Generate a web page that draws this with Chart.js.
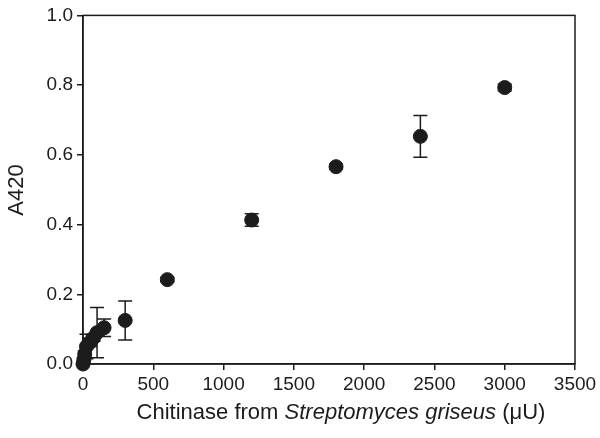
<!DOCTYPE html>
<html>
<head>
<meta charset="utf-8">
<script src="https://cdn.jsdelivr.net/npm/chart.js@4.4.1/dist/chart.umd.min.js"></script>
<style>
  html, body { margin: 0; padding: 0; background: #fff; }
  #wrap { width: 600px; height: 438px; position: relative; }
</style>
</head>
<body>
<div id="wrap"><canvas id="chart"></canvas></div>
<script>
// ---- data ----
const enzymeUnits = [0, 6, 12.5, 25, 50, 75, 100, 150, 300, 600, 1200, 1800, 2400, 3000];
const absorbance  = [0, 0.012, 0.028, 0.05, 0.062, 0.075, 0.09, 0.104, 0.125, 0.242, 0.413, 0.566, 0.653, 0.793];
const errorSD     = [0.003, 0.005, 0.01, 0.035, 0.012, 0.01, 0.072, 0.025, 0.056, 0.006, 0.018, 0.007, 0.06, 0.01];
const xTicks      = [0, 500, 1000, 1500, 2000, 2500, 3000, 3500];
const yTicks      = [0, 0.2, 0.4, 0.6, 0.8, 1.0];

const ink = '#1c1c1c';
const fam = 'Liberation Sans, Arial, sans-serif';
const tickFont = { family: fam, size: 19 };

// error bars + box frame + mixed-style axis titles
const decorations = {
    id: 'decorations',
    beforeDatasetsDraw(chart) {
        const { ctx, scales: { x, y } } = chart;
        ctx.save();
        ctx.strokeStyle = ink;
        ctx.lineWidth = 1.5;
        enzymeUnits.forEach((v, i) => {
            const px = x.getPixelForValue(v);
            const top = y.getPixelForValue(absorbance[i] + errorSD[i]);
            const bot = y.getPixelForValue(absorbance[i] - errorSD[i]);
            ctx.beginPath();
            ctx.moveTo(px, top); ctx.lineTo(px, bot);
            ctx.moveTo(px - 7, top); ctx.lineTo(px + 7, top);
            ctx.moveTo(px - 7, bot); ctx.lineTo(px + 7, bot);
            ctx.stroke();
        });
        ctx.restore();
    },
    afterDraw(chart) {
        const { ctx, chartArea: a } = chart;
        ctx.save();
        ctx.strokeStyle = ink;
        ctx.lineWidth = 1.5;
        ctx.strokeRect(a.left, a.top, a.right - a.left, a.bottom - a.top);

        // x title: plain + italic + plain
        const parts = [
            ['Chitinase from ', 'normal'],
            ['Streptomyces griseus', 'italic'],
            [' (\u03bcU)', 'normal']
        ];
        let total = 0;
        parts.forEach(p => { ctx.font = p[1] + ' 22px ' + fam; total += ctx.measureText(p[0]).width; });
        let cx = 341 - total / 2;
        ctx.fillStyle = ink;
        ctx.textBaseline = 'middle';
        ctx.textAlign = 'left';
        parts.forEach(p => {
            ctx.font = p[1] + ' 22px ' + fam;
            ctx.fillText(p[0], cx, 413);
            cx += ctx.measureText(p[0]).width;
        });

        // y title
        ctx.translate(17, 190);
        ctx.rotate(-Math.PI / 2);
        ctx.textAlign = 'center';
        ctx.font = '22px ' + fam;
        ctx.fillText('A420', 0, 0);
        ctx.restore();
    }
};

new Chart(document.getElementById('chart').getContext('2d'), {
    type: 'scatter',
    data: {
        datasets: [{
            data: enzymeUnits.map((v, i) => ({ x: v, y: absorbance[i] })),
            backgroundColor: ink,
            borderColor: ink,
            pointRadius: 7,
            pointHoverRadius: 7,
            clip: false
        }]
    },
    options: {
        responsive: true,
        maintainAspectRatio: false,
        animation: false,
        layout: { padding: { top: 10, right: 25, left: 0, bottom: 0 } },
        plugins: { legend: { display: false }, tooltip: { enabled: false } },
        scales: {
            x: {
                type: 'linear',
                min: 0, max: 3500,
                afterBuildTicks: s => { s.ticks = xTicks.map(v => ({ value: v })); },
                afterFit: s => { s.height = 74; },
                grid: { drawOnChartArea: false, drawTicks: true, tickLength: 6, color: ink, lineWidth: 1.5 },
                border: { display: true, color: ink, width: 1.5 },
                ticks: { color: ink, font: tickFont, padding: 3, maxRotation: 0, callback: v => String(v) }
            },
            y: {
                min: 0, max: 1,
                afterBuildTicks: s => { s.ticks = yTicks.map(v => ({ value: v })); },
                afterFit: s => { s.width = 83; },
                grid: { drawOnChartArea: false, drawTicks: true, tickLength: 6, color: ink, lineWidth: 1.5 },
                border: { display: true, color: ink, width: 1.5 },
                ticks: { color: ink, font: tickFont, padding: 4, callback: v => v.toFixed(1) }
            }
        }
    },
    plugins: [decorations]
});
</script>
</body>
</html>
